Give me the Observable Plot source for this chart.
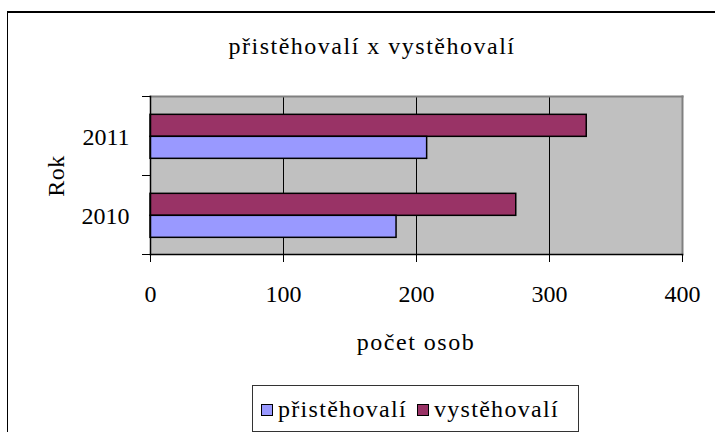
<!DOCTYPE html>
<html>
<head>
<meta charset="utf-8">
<script src="https://cdn.jsdelivr.net/npm/d3@7"></script>
<script src="https://cdn.jsdelivr.net/npm/@observablehq/plot@0.6"></script>
<style>
  html, body { margin: 0; padding: 0; background: #fff; width: 715px; height: 432px; overflow: hidden; }
  body { position: relative; font-family: "Liberation Serif", "Times New Roman", serif; color: #000; }
  #outer { position: absolute; left: 7px; top: 11px; width: 800px; height: 500px; border-top: 2px solid #000; border-left: 1.5px solid #000; box-sizing: border-box; }
  #chart { position: absolute; left: 0; top: 0; }
  .lbl { position: absolute; white-space: nowrap; font-size: 24px; line-height: 1; letter-spacing: 1.5px; }
  #title { left: 372px; top: 34px; transform: translateX(-50%); }
  #xlabel { left: 416px; top: 330px; transform: translateX(-50%); }
  #ylabel { left: 56px; top: 176px; transform: translate(-50%, -50%) rotate(-90deg); letter-spacing: 0.5px; }
  #legend { position: absolute; left: 252px; top: 385px; width: 327px; height: 47px; border: 1px solid #333; box-sizing: border-box; display: flex; align-items: center; justify-content: flex-start; padding-left: 8px; font-size: 24px; letter-spacing: 1.3px; }
  .sw { display: inline-block; width: 10px; height: 10px; border: 1.5px solid #000; margin: 0 5px 0 0; position: relative; top: 1px; }
  .item { display: flex; align-items: center; margin: 0 10px 0 0; line-height: 1; }
</style>
</head>
<body>
<div id="outer"></div>
<div id="chart"></div>
<div id="title" class="lbl"></div>
<div id="xlabel" class="lbl"></div>
<div id="ylabel" class="lbl"></div>
<div id="legend"></div>
<script>
// ---- data ----
const titleText = "přistěhovalí x vystěhovalí";
const xLabelText = "počet osob";
const yLabelText = "Rok";
const years = ["2011", "2010"];
const series = ["přistěhovalí", "vystěhovalí"];
const pristehovali = [208, 185];   // 2011, 2010
const vystehovali = [328, 275];    // 2011, 2010
const xTicks = [0, 100, 200, 300, 400];
const seriesColors = ["#9999FF", "#993366"];

const rows = [];
years.forEach((y, i) => {
  rows.push({year: y, series: series[0], value: pristehovali[i]});
  rows.push({year: y, series: series[1], value: vystehovali[i]});
});

const W = 715, H = 432;
const mTop = 96, mBottom = H - 254, mLeft = 150, mRight = W - 682;
const bw = (H - mTop - mBottom) / years.length;

const chart = Plot.plot({
  width: W,
  height: H,
  marginTop: mTop,
  marginBottom: mBottom,
  marginLeft: mLeft,
  marginRight: mRight,
  style: {fontFamily: "'Liberation Serif', 'Times New Roman', serif", fontSize: "24px", background: "transparent", color: "#000", overflow: "visible"},
  x: {domain: [0, 400], ticks: xTicks},
  y: {domain: years, padding: 0},
  color: {domain: series, range: seriesColors},
  marks: [
    Plot.frame({fill: "#c0c0c0"}),
    Plot.gridX({ticks: [100, 200, 300], stroke: "#000", strokeOpacity: 1, strokeWidth: 1}),
    Plot.frame({anchor: "top", stroke: "#808080", strokeWidth: 2}),
    Plot.frame({anchor: "right", stroke: "#808080", strokeWidth: 2}),
    Plot.barX(rows.filter(d => d.series === series[1]), {
      x: "value", y: "year", fill: "series", stroke: "#000", strokeWidth: 1.5,
      insetTop: bw * 0.232, insetBottom: bw - bw * 0.232 - 22
    }),
    Plot.barX(rows.filter(d => d.series === series[0]), {
      x: "value", y: "year", fill: "series", stroke: "#000", strokeWidth: 1.5,
      insetTop: bw * 0.232 + 22, insetBottom: bw - bw * 0.232 - 44
    }),
    Plot.frame({anchor: "bottom", stroke: "#000", strokeWidth: 1.5}),
    Plot.frame({anchor: "left", stroke: "#000", strokeWidth: 1.5}),
    Plot.axisX({ticks: xTicks, tickSize: 8, tickPadding: 22, label: null, stroke: "#000", tickFormat: d => String(d)}),
    Plot.axisY({tickSize: 0, tickPadding: 21, label: null, dy: 1.5}),
    Plot.axisY({ticks: years, tickSize: 8, tickFormat: () => "", label: null, dy: -bw / 2}),
    Plot.axisY({ticks: [years[years.length - 1]], tickSize: 8, tickFormat: () => "", label: null, dy: bw / 2})
  ]
});
document.getElementById("chart").appendChild(chart);

document.getElementById("title").textContent = titleText;
document.getElementById("xlabel").textContent = xLabelText;
document.getElementById("ylabel").textContent = yLabelText;

const legend = document.getElementById("legend");
series.forEach((s, i) => {
  const item = document.createElement("span");
  item.className = "item";
  const sw = document.createElement("span");
  sw.className = "sw";
  sw.style.background = seriesColors[i];
  item.appendChild(sw);
  item.appendChild(document.createTextNode(s));
  legend.appendChild(item);
});
</script>
</body>
</html>
